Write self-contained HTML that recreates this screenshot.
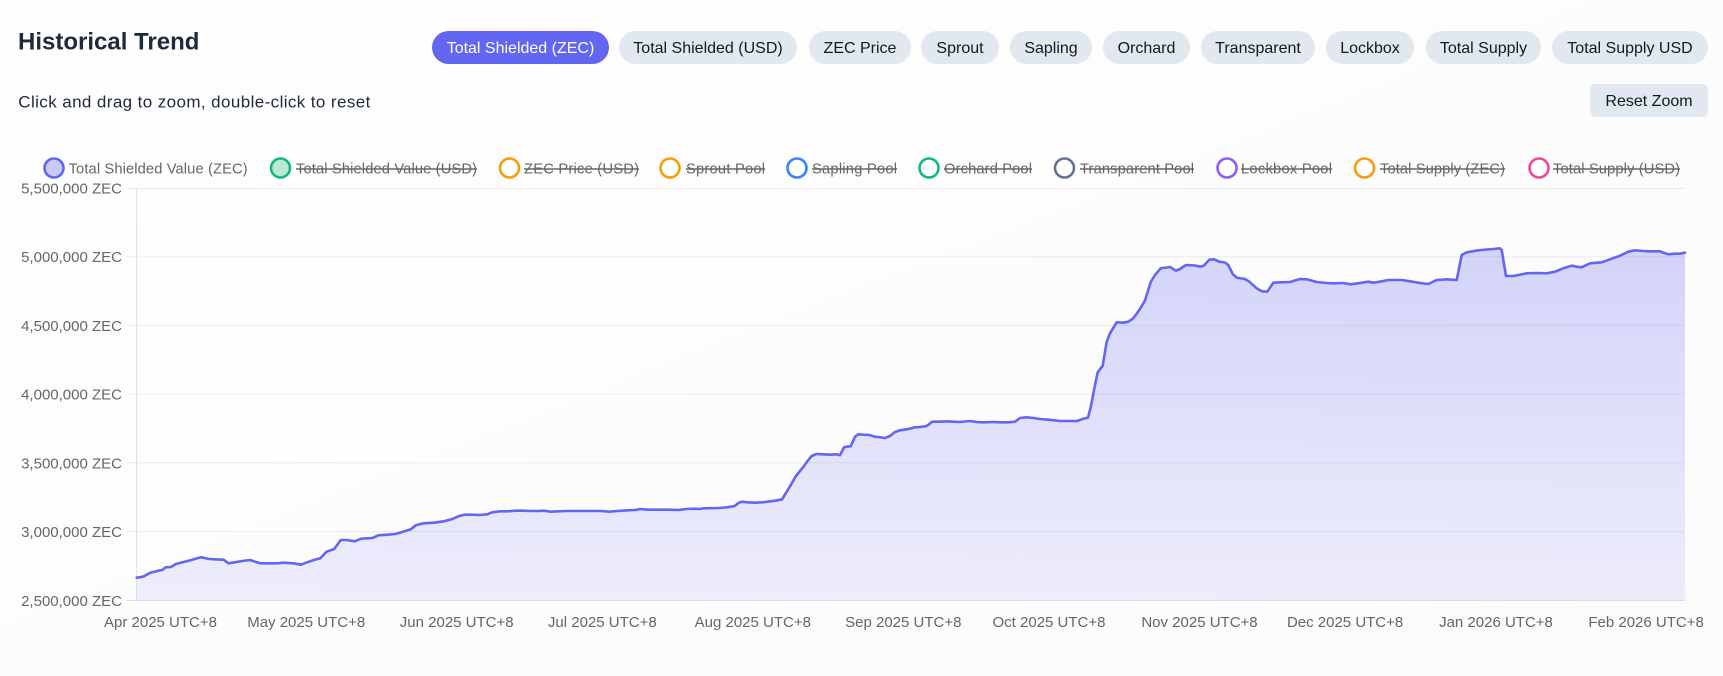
<!DOCTYPE html>
<html>
<head>
<meta charset="utf-8">
<style>
  html,body{margin:0;padding:0;background:#fcfcfd;}
  body{width:1723px;height:676px;overflow:hidden;}
  svg{display:block;}
  text{font-family:"Liberation Sans", Arial, sans-serif;}
</style>
</head>
<body>
<svg width="1723" height="676" viewBox="0 0 1723 676" xmlns="http://www.w3.org/2000/svg">
  <defs>
    <linearGradient id="bg" x1="0" y1="0" x2="1" y2="1">
      <stop offset="0" stop-color="#fefefe"/>
      <stop offset="1" stop-color="#fcfbfc"/>
    </linearGradient>
    <linearGradient id="fillg" gradientUnits="userSpaceOnUse" x1="0" y1="188" x2="0" y2="600">
      <stop offset="0" stop-color="#6366f1" stop-opacity="0.30"/>
      <stop offset="1" stop-color="#6366f1" stop-opacity="0.10"/>
    </linearGradient>
  </defs>
  <rect x="0" y="0" width="1723" height="676" fill="url(#bg)"/>

  <!-- Title -->
  <text x="18" y="49.5" font-size="24" font-weight="bold" fill="#1e293b">Historical Trend</text>
  <text x="18.3" y="107.3" font-size="17" fill="#1e293b" textLength="352" lengthAdjust="spacing">Click and drag to zoom, double-click to reset</text>

  <!-- Pills -->
  <g font-size="16" text-anchor="middle">
    <rect x="432" y="31" width="177" height="33" rx="16.5" fill="#6366f1"/>
    <text x="520.5" y="53" fill="#ffffff">Total Shielded (ZEC)</text>
    <rect x="619" y="31" width="178" height="33" rx="16.5" fill="#e2e8f0"/>
    <text x="708" y="53" fill="#111827">Total Shielded (USD)</text>
    <rect x="809" y="31" width="102" height="33" rx="16.5" fill="#e2e8f0"/>
    <text x="860" y="53" fill="#111827">ZEC Price</text>
    <rect x="921" y="31" width="78" height="33" rx="16.5" fill="#e2e8f0"/>
    <text x="960" y="53" fill="#111827">Sprout</text>
    <rect x="1010" y="31" width="82" height="33" rx="16.5" fill="#e2e8f0"/>
    <text x="1051" y="53" fill="#111827">Sapling</text>
    <rect x="1103" y="31" width="87" height="33" rx="16.5" fill="#e2e8f0"/>
    <text x="1146.5" y="53" fill="#111827">Orchard</text>
    <rect x="1201" y="31" width="114" height="33" rx="16.5" fill="#e2e8f0"/>
    <text x="1258" y="53" fill="#111827">Transparent</text>
    <rect x="1326" y="31" width="88" height="33" rx="16.5" fill="#e2e8f0"/>
    <text x="1370" y="53" fill="#111827">Lockbox</text>
    <rect x="1426" y="31" width="115" height="33" rx="16.5" fill="#e2e8f0"/>
    <text x="1483.5" y="53" fill="#111827">Total Supply</text>
    <rect x="1552" y="31" width="156" height="33" rx="16.5" fill="#e2e8f0"/>
    <text x="1630" y="53" fill="#111827">Total Supply USD</text>

    <rect x="1590" y="84" width="118" height="33" rx="5" fill="#e2e8f0"/>
    <text x="1649" y="106" fill="#111827">Reset Zoom</text>
  </g>

  <!-- Legend -->
  <g stroke-width="2.6">
    <circle cx="54" cy="168" r="9.5" fill="#c9caf8" stroke="#6366f1"/>
    <circle cx="280.5" cy="168" r="9.5" fill="#b9e9d5" stroke="#10b981"/>
    <circle cx="509.5" cy="168" r="9.5" fill="#ffffff" stroke="#f59e0b"/>
    <circle cx="670" cy="168" r="9.5" fill="#ffffff" stroke="#f59e0b"/>
    <circle cx="797" cy="168" r="9.5" fill="#ffffff" stroke="#3b82f6"/>
    <circle cx="929" cy="168" r="9.5" fill="#ffffff" stroke="#10b981"/>
    <circle cx="1064.5" cy="168" r="9.5" fill="#ffffff" stroke="#64748b"/>
    <circle cx="1227" cy="168" r="9.5" fill="#ffffff" stroke="#8b5cf6"/>
    <circle cx="1364.5" cy="168" r="9.5" fill="#ffffff" stroke="#f59e0b"/>
    <circle cx="1539" cy="168" r="9.5" fill="#ffffff" stroke="#ec4899"/>
  </g>
  <g font-size="14.7" fill="#666666">
    <text x="68.6" y="173.5" textLength="179" lengthAdjust="spacing">Total Shielded Value (ZEC)</text>
    <text x="296" y="173.5" textLength="181" lengthAdjust="spacing">Total Shielded Value (USD)</text>
    <text x="524" y="173.5" textLength="115" lengthAdjust="spacing">ZEC Price (USD)</text>
    <text x="686" y="173.5" textLength="79" lengthAdjust="spacing">Sprout Pool</text>
    <text x="812" y="173.5" textLength="85" lengthAdjust="spacing">Sapling Pool</text>
    <text x="944" y="173.5" textLength="88" lengthAdjust="spacing">Orchard Pool</text>
    <text x="1080" y="173.5" textLength="114" lengthAdjust="spacing">Transparent Pool</text>
    <text x="1241" y="173.5" textLength="91" lengthAdjust="spacing">Lockbox Pool</text>
    <text x="1380" y="173.5" textLength="125" lengthAdjust="spacing">Total Supply (ZEC)</text>
    <text x="1553" y="173.5" textLength="127" lengthAdjust="spacing">Total Supply (USD)</text>
  </g>
  <g stroke="#666666" stroke-width="1.4">
    <line x1="296" y1="169" x2="477" y2="169"/>
    <line x1="524" y1="169" x2="639" y2="169"/>
    <line x1="686" y1="169" x2="765" y2="169"/>
    <line x1="812" y1="169" x2="897" y2="169"/>
    <line x1="944" y1="169" x2="1032" y2="169"/>
    <line x1="1080" y1="169" x2="1194" y2="169"/>
    <line x1="1241" y1="169" x2="1332" y2="169"/>
    <line x1="1380" y1="169" x2="1505" y2="169"/>
    <line x1="1553" y1="169" x2="1680" y2="169"/>
  </g>

  <!-- Grid -->
  <g stroke="#ebebee" stroke-width="1">
    <line x1="127" y1="188.5" x2="1685" y2="188.5"/>
    <line x1="127" y1="256.7" x2="1685" y2="256.7"/>
    <line x1="127" y1="325.4" x2="1685" y2="325.4"/>
    <line x1="127" y1="394.1" x2="1685" y2="394.1"/>
    <line x1="127" y1="462.8" x2="1685" y2="462.8"/>
    <line x1="127" y1="531.6" x2="1685" y2="531.6"/>
  </g>
  <line x1="127" y1="600.5" x2="1685" y2="600.5" stroke="#dcdce0" stroke-width="1"/>
  <line x1="136.5" y1="188" x2="136.5" y2="600.5" stroke="#e2e2e6" stroke-width="1"/>

  <!-- Y labels -->
  <g font-size="15" fill="#666666" text-anchor="end">
    <text x="122" y="193.5">5,500,000 ZEC</text>
    <text x="122" y="262.2">5,000,000 ZEC</text>
    <text x="122" y="330.9">4,500,000 ZEC</text>
    <text x="122" y="399.6">4,000,000 ZEC</text>
    <text x="122" y="468.3">3,500,000 ZEC</text>
    <text x="122" y="537.1">3,000,000 ZEC</text>
    <text x="122" y="605.8">2,500,000 ZEC</text>
  </g>

  <!-- X labels -->
  <g font-size="15" fill="#666666" text-anchor="middle">
    <text x="160.5" y="627">Apr 2025 UTC+8</text>
    <text x="306.2" y="627">May 2025 UTC+8</text>
    <text x="456.7" y="627">Jun 2025 UTC+8</text>
    <text x="602.3" y="627">Jul 2025 UTC+8</text>
    <text x="752.8" y="627">Aug 2025 UTC+8</text>
    <text x="903.3" y="627">Sep 2025 UTC+8</text>
    <text x="1049" y="627">Oct 2025 UTC+8</text>
    <text x="1199.5" y="627">Nov 2025 UTC+8</text>
    <text x="1345.1" y="627">Dec 2025 UTC+8</text>
    <text x="1496" y="627">Jan 2026 UTC+8</text>
    <text x="1646.1" y="627">Feb 2026 UTC+8</text>
  </g>

  <!-- Series -->
  <path id="area" fill="url(#fillg)" stroke="none" d="M136.7,577.7 L142.9,576.7 L150.5,572.7 L158.2,570.7 L162.2,570 L165.8,567.3 L170.9,567 L176,564 L183.7,562 L191.3,560 L199,557.7 L201.5,557.3 L209.2,559 L214.3,559.3 L223.5,559.7 L228.6,563.3 L234.7,562.3 L242.3,561 L250,560 L255.1,561.7 L260.2,563.3 L270.4,563.3 L278.1,563.3 L283.2,562.7 L293.4,563.3 L301,564.7 L306.1,562.7 L313.8,560 L320.4,558.3 L326.5,551.7 L334.2,549 L340.8,540 L346.9,540 L354.6,541.3 L361.2,538.7 L372.4,538 L378.6,535.3 L387.8,534.7 L395.4,534 L403.1,531.7 L410.7,529.3 L415.8,525.3 L423.5,523.3 L433.7,522.7 L443.9,521.3 L451.5,519.3 L459.2,516 L464.3,514.7 L471.9,514.7 L479.6,515 L487.2,514.3 L492.3,512.3 L500,511.3 L507.7,511.3 L515.3,510.7 L523,510.7 L530.6,511 L538.3,511 L543.4,510.7 L551,511.7 L558.7,511.3 L566.3,511 L576.5,511 L586.7,511 L602,511 L609.7,511.7 L617.3,511 L627.6,510.3 L635.2,510 L640.3,509 L648,509.7 L668.4,509.7 L678.6,510 L686.2,509 L693.9,508.7 L699,509 L704.1,508.3 L719.4,508 L727,507.3 L734.7,506 L738.8,502.7 L742.3,501.7 L747.4,502.3 L755.1,502.7 L762.8,502.3 L770.4,501.3 L775.5,500.7 L782.1,499.3 L789.8,486.7 L795.9,476 L800,471 L803.3,467 L808.3,460 L811.7,456 L816.7,454 L823.3,454.3 L830,454.7 L836.7,454.3 L840,455.3 L844,447.3 L846.7,446.7 L850.7,446.3 L855,436.7 L858.3,434.3 L863.3,434.7 L869.3,435 L875,436.7 L880,437.3 L885,438 L890,436 L895,432 L900,430.3 L906.7,429.3 L911.7,428.3 L915,427.3 L920,427 L926.7,426 L932.3,421.7 L940,421.7 L946.7,421.3 L953.3,421.7 L960,422 L970,421 L976.7,422 L983.3,422.3 L993.3,422 L1000,422.3 L1008.3,422.3 L1015,421.7 L1020,418 L1026.7,417.3 L1033.3,418 L1040,419 L1049.5,419.8 L1060.5,421 L1077,421 L1083.6,418.7 L1088,417.6 L1091,406 L1094,390 L1097.7,372.3 L1102.7,365.7 L1106.7,341.7 L1110,333.3 L1116.7,322.3 L1123.3,322.7 L1128.3,321.7 L1133.3,318.3 L1139.3,310 L1145,300.5 L1150.7,282 L1155,275 L1160.7,268.3 L1170,267 L1176,270.7 L1180,269 L1186,265 L1195,265.5 L1200,266.7 L1204,265.5 L1209.3,259.7 L1214,259.3 L1219.3,261.7 L1225,262.5 L1228.3,265 L1232.7,274 L1236.7,277.7 L1245,279 L1249.3,281.7 L1256.7,288.3 L1261.7,291.3 L1267.3,291.7 L1273.3,282.7 L1280,282.3 L1290,282 L1300,279 L1306.7,279.3 L1316.7,282 L1326.7,283 L1333.3,283.3 L1343.3,283 L1350.7,284.3 L1360,283 L1368.3,281.7 L1373.3,282.7 L1380,281.7 L1388.3,280 L1401.7,280 L1410,281.3 L1420,283 L1428.3,284 L1436.7,280 L1446.7,279.3 L1456.7,280 L1461.7,255 L1466.7,252.3 L1476.7,250.5 L1486.7,249.5 L1493.3,249 L1500,248.3 L1501.7,250 L1506,276 L1513.3,276 L1526.7,273.3 L1536.7,273 L1546.7,273.3 L1555,271.7 L1563.3,268.3 L1571.7,265.7 L1576.7,266.7 L1581.7,267.3 L1590,263.3 L1596.7,262.7 L1601.7,262.3 L1610,259.3 L1620,255.7 L1628.3,251.7 L1635,250.3 L1643.3,251 L1650,251.3 L1660,251.3 L1663.3,252.7 L1668.3,254.3 L1675,253.7 L1680,253.7 L1685,252.7 L1685,600 L136.7,600 Z"/>
  <path fill="none" stroke="#6366f1" stroke-width="2.6" stroke-linejoin="round" stroke-linecap="round" d="M136.7,577.7 L142.9,576.7 L150.5,572.7 L158.2,570.7 L162.2,570 L165.8,567.3 L170.9,567 L176,564 L183.7,562 L191.3,560 L199,557.7 L201.5,557.3 L209.2,559 L214.3,559.3 L223.5,559.7 L228.6,563.3 L234.7,562.3 L242.3,561 L250,560 L255.1,561.7 L260.2,563.3 L270.4,563.3 L278.1,563.3 L283.2,562.7 L293.4,563.3 L301,564.7 L306.1,562.7 L313.8,560 L320.4,558.3 L326.5,551.7 L334.2,549 L340.8,540 L346.9,540 L354.6,541.3 L361.2,538.7 L372.4,538 L378.6,535.3 L387.8,534.7 L395.4,534 L403.1,531.7 L410.7,529.3 L415.8,525.3 L423.5,523.3 L433.7,522.7 L443.9,521.3 L451.5,519.3 L459.2,516 L464.3,514.7 L471.9,514.7 L479.6,515 L487.2,514.3 L492.3,512.3 L500,511.3 L507.7,511.3 L515.3,510.7 L523,510.7 L530.6,511 L538.3,511 L543.4,510.7 L551,511.7 L558.7,511.3 L566.3,511 L576.5,511 L586.7,511 L602,511 L609.7,511.7 L617.3,511 L627.6,510.3 L635.2,510 L640.3,509 L648,509.7 L668.4,509.7 L678.6,510 L686.2,509 L693.9,508.7 L699,509 L704.1,508.3 L719.4,508 L727,507.3 L734.7,506 L738.8,502.7 L742.3,501.7 L747.4,502.3 L755.1,502.7 L762.8,502.3 L770.4,501.3 L775.5,500.7 L782.1,499.3 L789.8,486.7 L795.9,476 L800,471 L803.3,467 L808.3,460 L811.7,456 L816.7,454 L823.3,454.3 L830,454.7 L836.7,454.3 L840,455.3 L844,447.3 L846.7,446.7 L850.7,446.3 L855,436.7 L858.3,434.3 L863.3,434.7 L869.3,435 L875,436.7 L880,437.3 L885,438 L890,436 L895,432 L900,430.3 L906.7,429.3 L911.7,428.3 L915,427.3 L920,427 L926.7,426 L932.3,421.7 L940,421.7 L946.7,421.3 L953.3,421.7 L960,422 L970,421 L976.7,422 L983.3,422.3 L993.3,422 L1000,422.3 L1008.3,422.3 L1015,421.7 L1020,418 L1026.7,417.3 L1033.3,418 L1040,419 L1049.5,419.8 L1060.5,421 L1077,421 L1083.6,418.7 L1088,417.6 L1091,406 L1094,390 L1097.7,372.3 L1102.7,365.7 L1106.7,341.7 L1110,333.3 L1116.7,322.3 L1123.3,322.7 L1128.3,321.7 L1133.3,318.3 L1139.3,310 L1145,300.5 L1150.7,282 L1155,275 L1160.7,268.3 L1170,267 L1176,270.7 L1180,269 L1186,265 L1195,265.5 L1200,266.7 L1204,265.5 L1209.3,259.7 L1214,259.3 L1219.3,261.7 L1225,262.5 L1228.3,265 L1232.7,274 L1236.7,277.7 L1245,279 L1249.3,281.7 L1256.7,288.3 L1261.7,291.3 L1267.3,291.7 L1273.3,282.7 L1280,282.3 L1290,282 L1300,279 L1306.7,279.3 L1316.7,282 L1326.7,283 L1333.3,283.3 L1343.3,283 L1350.7,284.3 L1360,283 L1368.3,281.7 L1373.3,282.7 L1380,281.7 L1388.3,280 L1401.7,280 L1410,281.3 L1420,283 L1428.3,284 L1436.7,280 L1446.7,279.3 L1456.7,280 L1461.7,255 L1466.7,252.3 L1476.7,250.5 L1486.7,249.5 L1493.3,249 L1500,248.3 L1501.7,250 L1506,276 L1513.3,276 L1526.7,273.3 L1536.7,273 L1546.7,273.3 L1555,271.7 L1563.3,268.3 L1571.7,265.7 L1576.7,266.7 L1581.7,267.3 L1590,263.3 L1596.7,262.7 L1601.7,262.3 L1610,259.3 L1620,255.7 L1628.3,251.7 L1635,250.3 L1643.3,251 L1650,251.3 L1660,251.3 L1663.3,252.7 L1668.3,254.3 L1675,253.7 L1680,253.7 L1685,252.7"/>
</svg>
</body>
</html>
